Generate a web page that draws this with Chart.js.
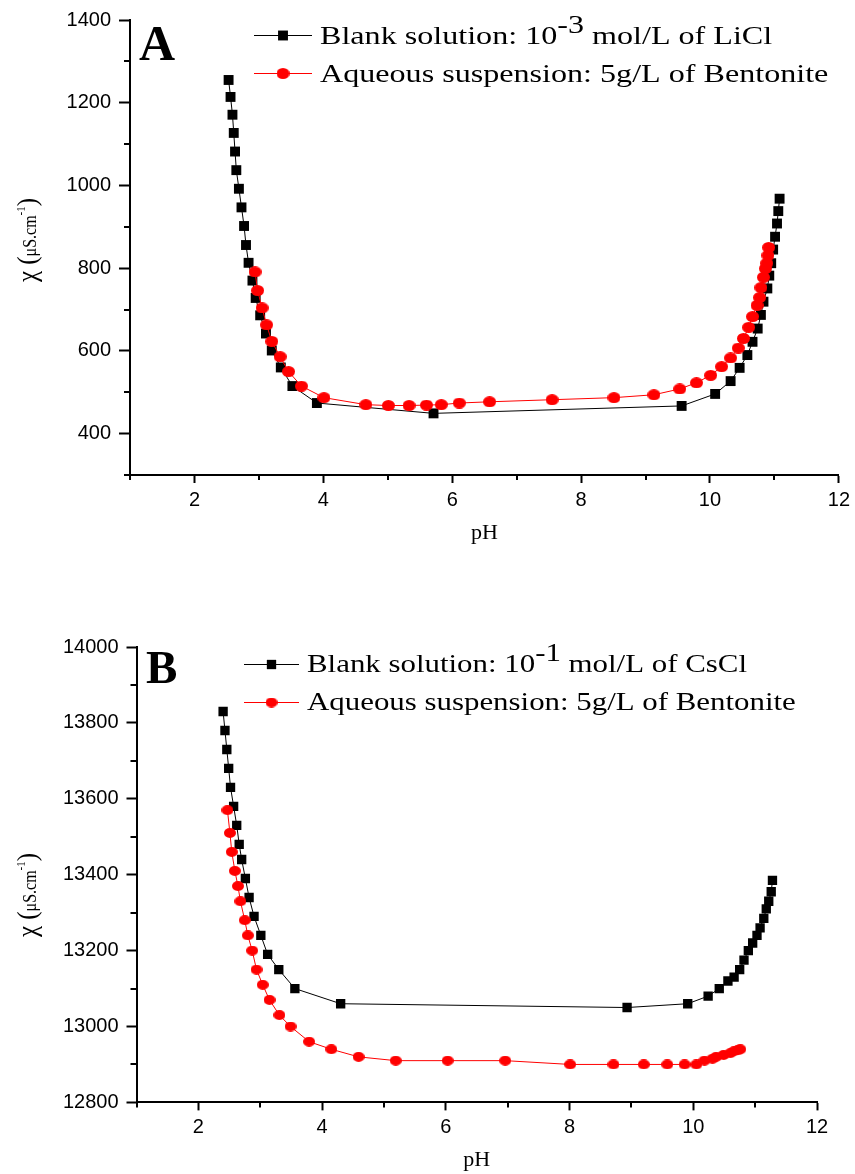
<!DOCTYPE html>
<html>
<head>
<meta charset="utf-8">
<script src="https://cdn.jsdelivr.net/npm/chart.js@4.4.0/dist/chart.umd.min.js"></script>
<style>
  body { margin: 0; background: #fff; width: 855px; height: 1174px; position: relative; overflow: hidden; }
  canvas { position: absolute; left: 0; }
  #chartA { top: 0; }
  #chartB { top: 620px; }
</style>
</head>
<body>
<canvas id="chartA" width="855" height="560"></canvas>
<canvas id="chartB" width="855" height="554"></canvas>
<script>
// ================= DATA: panel A (LiCl) =================
const phBlankA = [2.53, 2.56, 2.59, 2.61, 2.63, 2.65, 2.69, 2.73, 2.77, 2.80, 2.84, 2.90, 2.95, 3.02, 3.11, 3.20, 3.34, 3.52, 3.90, 5.71,
  9.56, 10.08, 10.32, 10.46, 10.58, 10.66, 10.74, 10.79, 10.83, 10.89, 10.92, 10.95, 10.98, 11.01, 11.04, 11.06, 11.08];
const condBlankA = [1255, 1214, 1171, 1127, 1082, 1037, 992, 947, 902, 856, 813, 770, 728, 686, 642, 601, 560, 515, 474, 449,
  467, 496, 527, 559, 590, 622, 654, 687, 719, 751, 782, 812, 845, 876, 908, 938, 968];
const phBentA = [2.94, 2.98, 3.05, 3.12, 3.20, 3.33, 3.46, 3.66, 4.01, 4.66, 5.01, 5.33, 5.60, 5.83, 6.11, 6.58, 7.55, 8.51, 9.13, 9.53,
  9.79, 10.01, 10.18, 10.32, 10.44, 10.52, 10.60, 10.66, 10.73, 10.77, 10.79, 10.83, 10.86, 10.88, 10.90, 10.91];
const condBentA = [791, 746, 704, 663, 623, 586, 550, 515, 487, 470, 468, 468, 469, 470, 474, 477, 482, 487, 494, 508,
  523, 541, 562, 583, 607, 630, 657, 683, 710, 729, 753, 778, 799, 812, 831, 850];

// ================= DATA: panel B (CsCl) =================
const phBlankB = [2.40, 2.43, 2.46, 2.49, 2.52, 2.57, 2.62, 2.66, 2.70, 2.76, 2.82, 2.90, 3.01, 3.12, 3.30, 3.56, 4.30, 8.93,
  9.91, 10.24, 10.42, 10.56, 10.66, 10.75, 10.82, 10.89, 10.96, 11.03, 11.08, 11.14, 11.18, 11.22, 11.26, 11.28];
const condBlankB = [13830, 13780, 13730, 13680, 13630, 13580, 13530, 13480, 13440, 13390, 13340, 13290, 13240, 13190, 13150, 13100, 13060, 13050,
  13060, 13080, 13100, 13120, 13130, 13150, 13175, 13200, 13220, 13240, 13260, 13285, 13310, 13330, 13355, 13385];
const phBentB = [2.47, 2.51, 2.54, 2.59, 2.64, 2.68, 2.75, 2.80, 2.87, 2.94, 3.04, 3.15, 3.31, 3.49, 3.79, 4.15, 4.59, 5.19, 6.03,
  6.96, 8.01, 8.71, 9.20, 9.58, 9.86, 10.05, 10.18, 10.31, 10.37, 10.49, 10.60, 10.66, 10.72, 10.76];
const condBentB = [13570, 13510, 13460, 13410, 13370, 13330, 13280, 13240, 13200, 13150, 13110, 13070, 13030, 13000, 12960, 12940, 12920, 12910, 12910,
  12910, 12900, 12900, 12900, 12900, 12900, 12900, 12910, 12915, 12920, 12925, 12930, 12935, 12937, 12940];

// tick labels
const phTicks = [2, 4, 6, 8, 10, 12];
const condTicksA = [400, 600, 800, 1000, 1200, 1400];
const condTicksB = [12800, 13000, 13200, 13400, 13600, 13800, 14000];

// legend text
const blankLabelA = [{ text: "Blank solution: 10" }, { text: "-3", sup: true }, { text: " mol/L of LiCl" }];
const blankLabelB = [{ text: "Blank solution: 10" }, { text: "-1", sup: true }, { text: " mol/L of CsCl" }];
const bentLabel = [{ text: "Aqueous suspension: 5g/L of Bentonite" }];

const SERIF = "'Liberation Serif', 'Times New Roman', serif";
Chart.defaults.font.family = "'Liberation Sans', Arial, sans-serif";
Chart.defaults.color = "#000";

const toPoints = (xs, ys) => xs.map((x, i) => ({ x, y: ys[i] }));

// slightly wide red dot used as marker
function dotMarker(w, h) {
  const c = document.createElement("canvas");
  c.width = w;
  c.height = h;
  const g = c.getContext("2d");
  g.fillStyle = "#ff0000";
  g.beginPath();
  g.ellipse(w / 2, h / 2, w / 2, h / 2, 0, 0, Math.PI * 2);
  g.fill();
  return c;
}

// ================= PLUGINS =================
// short unlabelled ticks between the labelled ones
const minorTicks = {
  id: "minorTicks",
  afterDraw(chart, args, opts) {
    const ctx = chart.ctx;
    ctx.save();
    ctx.strokeStyle = "#000";
    ctx.lineWidth = 2;
    ["x", "y"].forEach(id => {
      const o = opts[id];
      if (!o) return;
      const scale = chart.scales[id];
      const major = scale.ticks.map(t => t.value);
      for (let v = scale.min; v <= scale.max + 1e-9; v += o.step) {
        if (major.some(m => Math.abs(m - v) < 1e-6)) continue;
        const p = Math.round(scale.getPixelForValue(v));
        ctx.beginPath();
        if (id === "x") { ctx.moveTo(p, scale.top); ctx.lineTo(p, scale.top + o.len); }
        else { ctx.moveTo(scale.right - o.len, p); ctx.lineTo(scale.right, p); }
        ctx.stroke();
      }
    });
    ctx.restore();
  }
};

// text runs with superscripts, optionally widened by sx
function drawRuns(ctx, runs, x, y, size, rise, sx) {
  runs.forEach(r => {
    ctx.font = (r.size || size) + "px " + SERIF;
    ctx.save();
    ctx.translate(x, r.sup ? y - (r.rise || rise) : y);
    ctx.scale(sx, 1);
    ctx.fillText(r.text, 0, 0);
    ctx.restore();
    x += ctx.measureText(r.text).width * sx;
  });
  return x;
}

function runsWidth(ctx, runs, size) {
  let w = 0;
  runs.forEach(r => {
    ctx.font = (r.size || size) + "px " + SERIF;
    w += ctx.measureText(r.text).width;
  });
  return w;
}

// panel letter, legend and y title
const panelDecor = {
  id: "panelDecor",
  afterDraw(chart, args, o) {
    const ctx = chart.ctx;
    ctx.save();
    ctx.fillStyle = "#000";
    ctx.textBaseline = "alphabetic";
    ctx.textAlign = "left";

    // letter
    ctx.font = "bold " + o.letterSize + "px " + SERIF;
    ctx.fillText(o.letter, o.letterX, o.letterY);

    // legend
    chart.data.datasets.forEach(ds => {
      const it = o.legend[ds.key];
      ctx.strokeStyle = ds.borderColor;
      ctx.lineWidth = 1;
      ctx.beginPath();
      ctx.moveTo(o.lineX0, it.y + 0.5);
      ctx.lineTo(o.lineX1, it.y + 0.5);
      ctx.stroke();
      ctx.fillStyle = ds.backgroundColor;
      Chart.helpers.drawPoint(ctx, { pointStyle: ds.pointStyle, radius: ds.pointRadius, borderWidth: 0 },
        (o.lineX0 + o.lineX1) / 2, it.y + 0.5);
      ctx.fillStyle = "#000";
      drawRuns(ctx, it.runs, o.textX, it.base, o.textSize, o.supRise, o.stretch);
    });

    // rotated y title: χ (μS.cm-1)
    const title = [
      { text: "χ", size: 25 },
      { text: " (", size: 25 },
      { text: "μS.cm", size: 16 },
      { text: "-1", size: 11, sup: true, rise: 10 },
      { text: ")", size: 25 }
    ];
    const w = runsWidth(ctx, title, 16);
    ctx.translate(o.titleX, o.titleY);
    ctx.rotate(-Math.PI / 2);
    ctx.scale(1, 1.12);
    drawRuns(ctx, title, -w / 2, 0, 16, 10, 1);
    ctx.restore();
  }
};

// ================= CHART FACTORY =================
function makePanel(canvasId, cfg) {
  const ctx = document.getElementById(canvasId).getContext("2d");
  return new Chart(ctx, {
    type: "scatter",
    data: {
      datasets: [
        {
          key: "bent",
          data: toPoints(cfg.bentX, cfg.bentY),
          showLine: true,
          borderColor: "#ff0000",
          backgroundColor: "#ff0000",
          borderWidth: 1,
          pointStyle: cfg.dot,
          pointRadius: 6,
          pointBorderWidth: 0,
          order: 0
        },
        {
          key: "blank",
          data: toPoints(cfg.blankX, cfg.blankY),
          showLine: true,
          borderColor: "#000000",
          backgroundColor: "#000000",
          borderWidth: 1,
          pointStyle: "rect",
          pointRadius: cfg.square,
          pointBorderWidth: 0,
          order: 1
        }
      ]
    },
    options: {
      responsive: false,
      animation: false,
      events: [],
      layout: { padding: { top: cfg.padTop, right: cfg.padRight, bottom: 0, left: 0 } },
      scales: {
        x: {
          type: "linear",
          min: 1,
          max: 12,
          afterBuildTicks: s => { s.ticks = phTicks.map(v => ({ value: v })); },
          afterFit: s => { s.height = cfg.xHeight; },
          border: { color: "#000", width: 2 },
          grid: { drawOnChartArea: false, drawTicks: true, tickLength: 8, tickWidth: 2, tickColor: "#000" },
          ticks: { autoSkip: false, maxRotation: 0, padding: 5, font: { size: 20 }, color: "#000", callback: v => String(v) },
          title: {
            display: true,
            text: "pH",
            color: "#000",
            font: { family: SERIF, size: 22 },
            padding: { top: 0, bottom: cfg.titlePad }
          }
        },
        y: {
          type: "linear",
          min: cfg.yMin,
          max: cfg.yMax,
          afterBuildTicks: s => { s.ticks = cfg.yTicks.map(v => ({ value: v })); },
          afterFit: s => { s.width = cfg.yWidth; },
          border: { color: "#000", width: 2 },
          grid: { drawOnChartArea: false, drawTicks: true, tickLength: cfg.yTick, tickWidth: 2, tickColor: "#000" },
          ticks: { autoSkip: false, padding: 8, font: { size: 20 }, color: "#000", callback: v => String(v) }
        }
      },
      plugins: {
        legend: { display: false },
        tooltip: { enabled: false },
        minorTicks: { x: { step: 1, len: 5 }, y: { step: 100, len: 6 } },
        panelDecor: cfg.decor
      }
    },
    plugins: [minorTicks, panelDecor]
  });
}

document.addEventListener("DOMContentLoaded", () => {
  makePanel("chartA", {
    blankX: phBlankA, blankY: condBlankA, bentX: phBentA, bentY: condBentA,
    yMin: 300, yMax: 1400, yTicks: condTicksA,
    padTop: 19, padRight: 15, yWidth: 130, xHeight: 85, titlePad: 14, yTick: 11,
    square: 7, dot: dotMarker(13, 11),
    decor: {
      letter: "A", letterSize: 50, letterX: 139, letterY: 60,
      lineX0: 254, lineX1: 312, textX: 320, textSize: 26, supRise: 11, stretch: 1.235,
      legend: {
        blank: { y: 35, base: 44, runs: blankLabelA },
        bent: { y: 73, base: 82, runs: bentLabel }
      },
      titleX: 36, titleY: 240
    }
  });

  makePanel("chartB", {
    blankX: phBlankB, blankY: condBlankB, bentX: phBentB, bentY: condBentB,
    yMin: 12800, yMax: 14000, yTicks: condTicksB,
    padTop: 27, padRight: 38, yWidth: 136.5, xHeight: 71.6, titlePad: 1, yTick: 10,
    square: 6.6, dot: dotMarker(12, 10),
    decor: {
      letter: "B", letterSize: 47, letterX: 146, letterY: 63,
      lineX0: 244, lineX1: 299, textX: 307, textSize: 25, supRise: 11, stretch: 1.235,
      legend: {
        blank: { y: 44, base: 52, runs: blankLabelB },
        bent: { y: 82, base: 90, runs: bentLabel }
      },
      titleX: 36, titleY: 275
    }
  });
});
</script>
</body>
</html>
